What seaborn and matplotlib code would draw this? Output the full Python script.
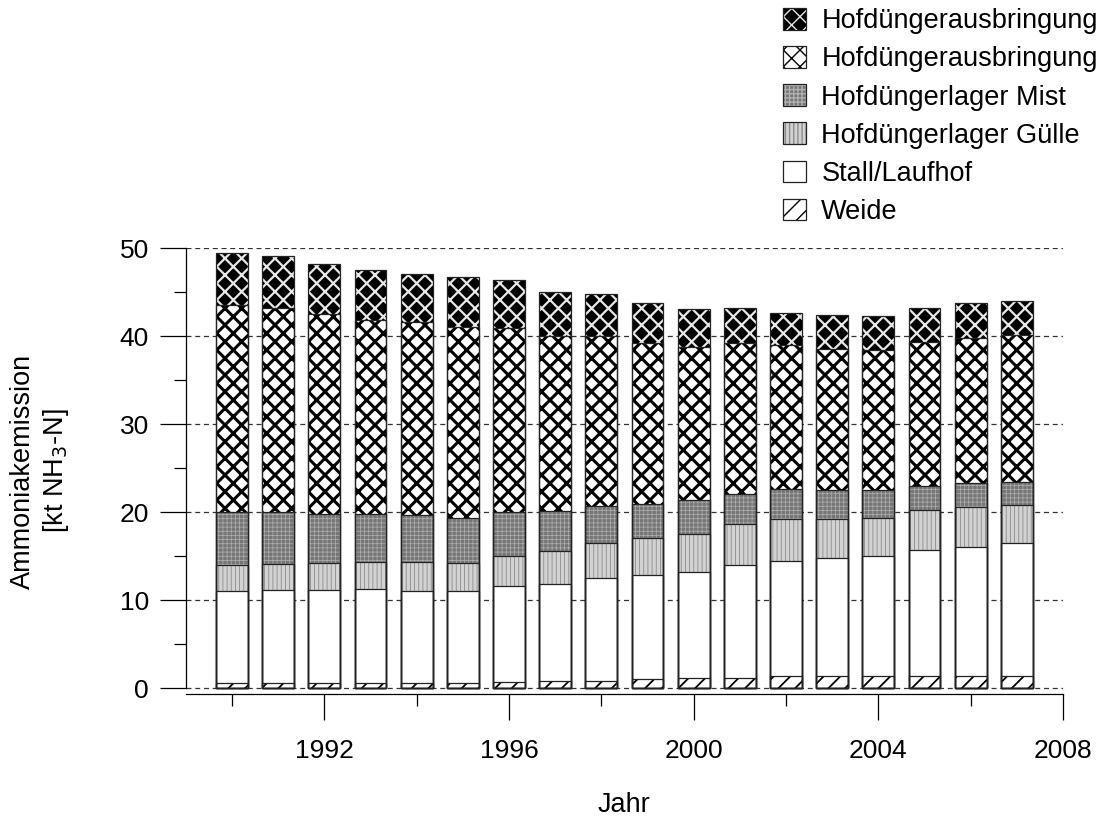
import matplotlib
matplotlib.use("Agg")
import matplotlib.pyplot as plt
import pandas as pd
import seaborn as sns
from matplotlib.patches import Patch
from matplotlib.legend_handler import HandlerTuple
from matplotlib.ticker import MultipleLocator

# Ammoniakemission der Landwirtschaft nach Quelle, kt NH3-N
years = list(range(1990, 2008))
weide = [0.6, 0.6, 0.6, 0.6, 0.6, 0.6, 0.7, 0.83, 0.83, 1.02, 1.14, 1.14,
         1.32, 1.32, 1.32, 1.32, 1.32, 1.32]
stall = [10.45, 10.55, 10.55, 10.65, 10.45, 10.45, 10.86, 11.04, 11.68, 11.83,
         12.05, 12.89, 13.13, 13.4, 13.7, 14.38, 14.76, 15.14]
guelle = [2.95, 2.95, 3.0, 3.1, 3.32, 3.13, 3.42, 3.68, 3.98, 4.14, 4.36, 4.62,
          4.81, 4.54, 4.35, 4.5, 4.5, 4.35]
mist = [6.05, 5.85, 5.67, 5.41, 5.25, 5.18, 5.04, 4.62, 4.17, 3.94, 3.87, 3.42,
        3.33, 3.21, 3.10, 2.77, 2.76, 2.61]
ausbr_hell = [23.5, 23.25, 22.68, 22.1, 21.92, 21.65, 20.93, 19.83, 19.34, 18.31,
              17.37, 17.17, 16.34, 16.08, 15.93, 16.38, 16.46, 16.65]
ausbr_dunkel = [5.9, 5.9, 5.67, 5.67, 5.52, 5.64, 5.42, 5.0, 4.74, 4.48, 4.32,
                3.94, 3.71, 3.83, 3.86, 3.78, 3.9, 3.86]

labels = ["Weide", "Stall/Laufhof", "Hofdüngerlager Gülle",
          "Hofdüngerlager Mist", "Hofdüngerausbringung", "Hofdüngerausbringung"]
series = [weide, stall, guelle, mist, ausbr_hell, ausbr_dunkel]

# fill, hatch colour, hatch, hatch line width (bottom to top)
styles = [
    dict(facecolor="white", edgecolor="black", hatch="//", hlw=1.3),
    dict(facecolor="white", edgecolor="black", hatch=None, hlw=1.0),
    dict(facecolor="#d2d2d2", edgecolor="#8c8c8c", hatch="||||", hlw=0.6),
    dict(facecolor="#767676", edgecolor="#b0b0b0", hatch="++++", hlw=0.5),
    dict(facecolor="white", edgecolor="black", hatch="xx", hlw=2.2),
    dict(facecolor="black", edgecolor="#e8e8e8", hatch="xx", hlw=1.6),
]

sns.set_theme(style="ticks")
plt.rcParams["font.family"] = ["Liberation Sans", "DejaVu Sans"]
plt.rcParams["text.color"] = "black"
plt.rcParams["axes.labelcolor"] = "black"
plt.rcParams["xtick.color"] = "black"
plt.rcParams["ytick.color"] = "black"


def set_hatch_lw(patches, lw):
    for p in patches:
        if hasattr(p, "set_hatch_linewidth"):
            p.set_hatch_linewidth(lw)


df = pd.DataFrame({"Jahr": years})
running = [0.0] * len(years)
for i, vals in enumerate(series):
    running = [r + v for r, v in zip(running, vals)]
    df[f"c{i}"] = running

fig = plt.figure(figsize=(11, 8.18), dpi=100)
ax = fig.add_axes([0.1689, 0.1516, 0.7975, 0.5452])

# dashed reference lines behind the bars
for yv in range(0, 51, 10):
    ax.axhline(yv, color="#333333", lw=0.9, ls=(0, (4, 3)), zorder=0)

bar_w = 0.69
# stacked bars: draw cumulative totals from the top layer downwards
for i in reversed(range(len(series))):
    st = styles[i]
    n0 = len(ax.patches)
    with plt.rc_context({"hatch.linewidth": st["hlw"]}):
        sns.barplot(data=df, x="Jahr", y=f"c{i}", native_scale=True, width=bar_w,
                    errorbar=None, facecolor=st["facecolor"],
                    edgecolor=st["edgecolor"], hatch=st["hatch"], linewidth=0,
                    ax=ax, zorder=2)
    set_hatch_lw(ax.patches[n0:], st["hlw"])
# black outlines of every segment
for i in reversed(range(len(series))):
    sns.barplot(data=df, x="Jahr", y=f"c{i}", native_scale=True, width=bar_w,
                errorbar=None, facecolor="none", edgecolor="#222222",
                linewidth=0.9, ax=ax, zorder=3)

ax.set_xlim(1989, 2008)
ax.set_ylim(-0.68, 50)
sns.despine(ax=ax)
ax.spines["left"].set_bounds(0, 50)
ax.spines["bottom"].set_bounds(1989, 2008)
for sp in ("left", "bottom"):
    ax.spines[sp].set_color("black")
    ax.spines[sp].set_linewidth(0.9)

ax.yaxis.set_major_locator(MultipleLocator(10))
ax.yaxis.set_minor_locator(MultipleLocator(5))
ax.set_xticks([1992, 1996, 2000, 2004, 2008])
ax.set_xticks([1990, 1994, 1998, 2002, 2006], minor=True)
ax.set_xticklabels(["1992", "1996", "2000", "2004", "2008"])
ax.tick_params(axis="both", which="major", length=18.5, width=0.9, labelsize=19)
ax.tick_params(axis="both", which="minor", length=8.5, width=0.9)
ax.tick_params(axis="y", which="major", pad=8)
ax.tick_params(axis="x", which="major", pad=14)

ax.set_xlabel("Jahr", fontsize=19.5, labelpad=21)
ax.set_ylabel("Ammoniakemission\n[kt NH$_3$-N]", fontsize=19.5, labelpad=35,
              linespacing=1.25)

# legend, top layer first
handles = []
for i in reversed(range(len(series))):
    st = styles[i]
    with plt.rc_context({"hatch.linewidth": st["hlw"]}):
        fill = Patch(facecolor=st["facecolor"], edgecolor=st["edgecolor"],
                     hatch=st["hatch"], linewidth=0)
    set_hatch_lw([fill], st["hlw"])
    outline = Patch(facecolor="none", edgecolor="#222222", linewidth=0.9)
    handles.append((fill, outline))
fig.legend(handles, list(reversed(labels)), loc="upper right",
           bbox_to_anchor=(0.998, 0.99), frameon=False, fontsize=19.5,
           handlelength=0.85, handleheight=0.85, handletextpad=0.55,
           labelspacing=0.44, borderpad=0, borderaxespad=0,
           handler_map={tuple: HandlerTuple(ndivide=1)})

fig.savefig("out.png", dpi=100)
